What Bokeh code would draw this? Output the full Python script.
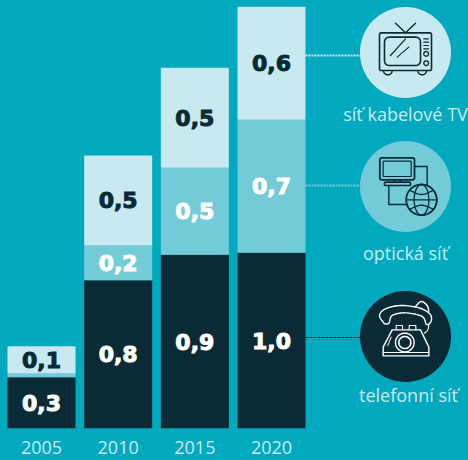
import numpy as np
from bokeh.plotting import figure
from bokeh.models import ColumnDataSource, Range1d, LinearAxis, FixedTicker
from bokeh.core.properties import value
from bokeh.embed import file_html
from bokeh.resources import INLINE

years = ["2005", "2010", "2015", "2020"]
telefonni = [0.28, 0.81, 0.95, 0.96]
opticka = [0.02, 0.19, 0.475, 0.727]
kabelova = [0.15, 0.492, 0.546, 0.617]
label_tel = ["0,3", "0,8", "0,9", "1,0"]
label_opt = ["", "0,2", "0,5", "0,7"]
label_kab = ["0,1", "0,5", "0,5", "0,6"]
captions = ["síť kabelové TV", "optická síť", "telefonní síť"]

BG = "#00a9bd"
DARK = "#0a2b36"
MID = "#74cbd8"
LIGHT = "#c9e9f1"
W, H, AXIS_H = 468, 460, 32
UNIT_X, UNIT_Y = 76.67, 183.0
X0 = 41.0

p = figure(width=W, height=H, output_backend="svg", toolbar_location=None,
           x_range=Range1d(-X0 / UNIT_X, (W - X0) / UNIT_X),
           y_range=Range1d(0, (H - AXIS_H) / UNIT_Y),
           x_axis_location=None, y_axis_location=None,
           min_border_left=0, min_border_right=0, min_border_top=0, min_border_bottom=AXIS_H,
           background_fill_color=BG, border_fill_color=BG, outline_line_color=None)
p.grid.visible = False
p.extra_x_ranges["px"] = Range1d(0, W)
p.extra_y_ranges["px"] = Range1d(H - AXIS_H, 0)

xs = list(range(len(years)))
t = np.array(telefonni)
o = np.array(opticka)
k = np.array(kabelova)
src = ColumnDataSource(dict(
    x=xs, t0=0 * t, t1=t, o1=t + o, k1=t + o + k,
    tm=t / 2, om=t + o / 2, km=t + o + k / 2,
    lt=label_tel, lo=label_opt, lk=label_kab))
BW = 68 / UNIT_X
p.vbar(x="x", bottom="t0", top="t1", width=BW, fill_color=DARK, line_color=None, source=src)
p.vbar(x="x", bottom="t1", top="o1", width=BW, fill_color=MID, line_color=None, source=src)
p.vbar(x="x", bottom="o1", top="k1", width=BW, fill_color=LIGHT, line_color=None, source=src)

for ycol, tcol, col in [("tm", "lt", "white"), ("om", "lo", "white"), ("km", "lk", DARK)]:
    p.text(x="x", y=ycol, text=tcol, source=src, text_align="center", text_baseline="middle",
           text_font=value("DejaVu Sans"), text_font_style="bold", text_font_size="22px",
           text_color=col, text_outline_color=col)

ax = LinearAxis(ticker=FixedTicker(ticks=xs),
                major_label_overrides={i: y for i, y in enumerate(years)})
ax.axis_line_color = None
ax.major_tick_line_color = None
ax.minor_tick_line_color = None
ax.major_label_standoff = 6
ax.major_label_text_font = "Open Sans"
ax.major_label_text_font_size = "18px"
ax.major_label_text_color = LIGHT
p.add_layout(ax, "below")

PX = dict(x_range_name="px", y_range_name="px")


def z(pts, ox, oy):
    return [ox + a / 3 for a, _ in pts], [oy + b / 3 for _, b in pts]


def stroke(pts, ox, oy, color, w=1.4):
    a, b = z(pts, ox, oy)
    p.line(a, b, line_color=color, line_width=w, line_join="round", line_cap="round", **PX)


def ring(cx, cy, rx, ry, ox, oy, color, w=1.4):
    th = np.linspace(0, 2 * np.pi, 49)
    pts = list(zip(cx + rx * np.cos(th), cy + ry * np.sin(th)))
    stroke(pts, ox, oy, color, w)


def rrect(x0, y0, x1, y1, r, ox, oy, color, w=1.6):
    pts = []
    for cx, cy, a0 in [(x1 - r, y0 + r, -90), (x1 - r, y1 - r, 0), (x0 + r, y1 - r, 90), (x0 + r, y0 + r, 180)]:
        for a in np.radians(np.linspace(a0, a0 + 90, 6)):
            pts.append((cx + r * np.cos(a), cy + r * np.sin(a)))
    pts.append(pts[0])
    stroke(pts, ox, oy, color, w)


def smooth(pts, n=10):
    # Catmull-Rom through a list of outline points
    pts = [np.array(q, float) for q in pts]
    out = []
    for i in range(len(pts) - 1):
        a = pts[max(i - 1, 0)]
        b = pts[i]
        c = pts[i + 1]
        d = pts[min(i + 2, len(pts) - 1)]
        for s in np.linspace(0, 1, n, endpoint=False):
            out.append(tuple(0.5 * (2 * b + (c - a) * s + (2 * a - 5 * b + 4 * c - d) * s ** 2 + (3 * b - a - 3 * c + d) * s ** 3)))
    out.append(tuple(pts[-1]))
    return out


# connectors
p.line([305, 360], [55, 55], line_color=LIGHT, line_width=2, line_dash="2 1", **PX)
p.line([305, 360], [185, 185], line_color=MID, line_width=2, line_dash="2 1", **PX)
p.line([305, 360], [337, 337], line_color=DARK, line_width=1, line_dash="3 1", **PX)

# discs
p.scatter([405, 405, 405], [52, 186, 336], size=91, marker="circle",
          fill_color=[LIGHT, MID, DARK], line_color=None, **PX)

# TV icon
O = (300, 0)
rrect(237, 97, 393, 210, 5, *O, DARK)
rrect(252, 110, 360, 195, 14, *O, DARK)
stroke([(285, 68), (315, 97), (345, 68)], *O, DARK)
stroke([(270, 165), (315, 115)], *O, DARK, 1.2)
stroke([(290, 170), (325, 140)], *O, DARK, 1.2)
for yy in (115, 125, 135, 145):
    stroke([(370, yy), (384, yy)], *O, DARK, 1.2)
ring(377, 160, 7, 7, *O, DARK)
ring(377, 188, 7, 7, *O, DARK)
for cx in (262, 365):
    th = np.linspace(0, np.pi, 12)
    stroke(list(zip(cx + 13 * np.cos(th), 211 + 12 * np.sin(th))), *O, DARK)

# computer + globe icon
O = (300, 130)
rrect(238, 82, 342, 148, 6, *O, DARK, 1.8)
rrect(248, 92, 332, 138, 2, *O, DARK, 1.2)
stroke([(282, 148), (282, 155)], *O, DARK)
stroke([(300, 148), (300, 155)], *O, DARK)
rrect(252, 155, 330, 165, 3, *O, DARK)
stroke([(342, 108), (380, 108), (380, 165)], *O, DARK)
stroke([(265, 165), (265, 222), (320, 222)], *O, DARK)
ring(363, 208, 46, 46, *O, DARK, 1.8)
ring(363, 208, 22, 46, *O, DARK, 1.3)
stroke([(317, 208), (409, 208)], *O, DARK, 1.3)
stroke(smooth([(328, 180), (363, 192), (398, 180)]), *O, DARK, 1.3)
stroke(smooth([(328, 236), (363, 224), (398, 236)]), *O, DARK, 1.3)

# telephone icon
O = (300, 280)
WHT = "white"
stroke(smooth([(252, 130), (237, 105), (255, 85), (300, 75), (355, 82), (388, 100), (392, 122), (378, 132),
               (365, 108), (315, 97), (275, 105), (265, 128), (252, 130)]), *O, WHT)
stroke(smooth([(345, 78), (362, 63), (380, 75), (385, 92)]), *O, WHT)
stroke(smooth([(385, 132), (382, 148), (372, 158)]), *O, WHT, 1.1)
stroke([(275, 148), (360, 148), (385, 200), (385, 226), (248, 226), (248, 200), (275, 148)], *O, WHT)
stroke([(248, 216), (385, 216)], *O, WHT, 1.0)
stroke([(287, 148), (287, 135), (306, 135), (306, 148)], *O, WHT, 1.1)
stroke([(326, 148), (326, 135), (346, 135), (346, 148)], *O, WHT, 1.1)
stroke([(272, 170), (262, 195)], *O, WHT, 1.0)
ring(313, 186, 28, 28, *O, WHT)
ring(313, 186, 18, 18, *O, WHT, 1.6)

# captions
p.text([405, 405, 408], [113, 252, 394], text=captions, text_align="center", text_baseline="middle",
       text_font=value("Open Sans"), text_font_size="18px", text_color=LIGHT, **PX)

html = file_html(p, INLINE)
html = html.replace("</head>", f"<style>html,body{{margin:0;padding:0;background:{BG};overflow:hidden}}</style></head>", 1)
open("out.html", "w").write(html)
